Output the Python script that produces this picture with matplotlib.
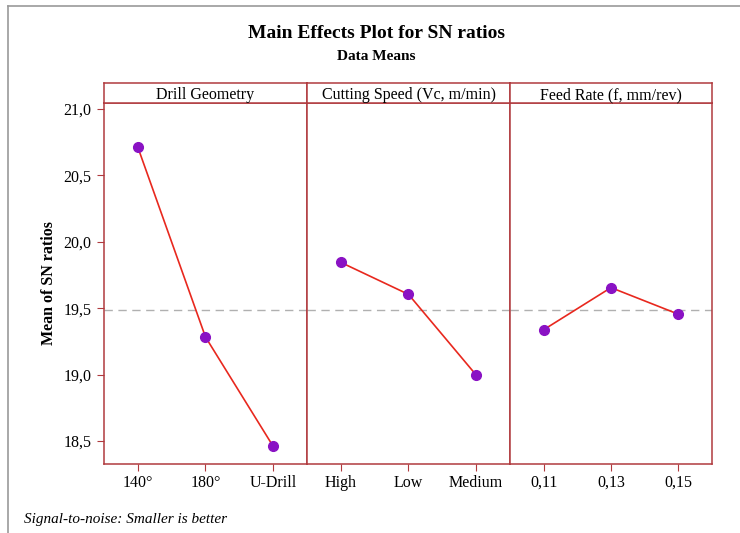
import matplotlib
matplotlib.use("Agg")
import matplotlib.pyplot as plt
from matplotlib.ticker import FuncFormatter, FixedLocator
from matplotlib.lines import Line2D

plt.rcParams['font.family'] = ['Liberation Serif', 'DejaVu Serif']

factors = ["Drill Geometry", "Cutting Speed (Vc, m/min)", "Feed Rate (f, mm/rev)"]
levels_drill = ["140°", "180°", "U-Drill"]
levels_speed = ["High", "Low", "Medium"]
levels_feed = ["0,11", "0,13", "0,15"]
sn_drill = [20.712, 19.283, 18.460]
sn_speed = [19.845, 19.604, 18.997]
sn_feed = [19.338, 19.655, 19.455]
grand_mean = 19.485
yticks = [18.5, 19.0, 19.5, 20.0, 20.5, 21.0]

levels = [levels_drill, levels_speed, levels_feed]
values = [sn_drill, sn_speed, sn_feed]

W, H = 740, 533
fig = plt.figure(figsize=(W/100, H/100), dpi=100)

frame_col = "#B03A3E"
line_col = "#E8281E"
marker_col = "#8A12C4"

# outer figure border (left & top)
fig.add_artist(Line2D([8/W, 8/W], [0, 1 - 6/H], color="#9a9a9a", lw=1.2, transform=fig.transFigure))
fig.add_artist(Line2D([8/W, 1], [1 - 6/H, 1 - 6/H], color="#9a9a9a", lw=1.2, transform=fig.transFigure))

edges = [104, 307, 510, 712]
bottom_px, top_px, strip_top = 464, 103, 83
ylo, yhi = 18.327, 21.045

for i in range(3):
    x0 = edges[i] / W
    w = (edges[i + 1] - edges[i]) / W
    ax = fig.add_axes([x0, 1 - bottom_px / H, w, (bottom_px - top_px) / H])
    xs = list(range(len(levels[i])))
    ax.axhline(grand_mean, color="#b0b0b0", lw=1.0, ls=(0, (6, 4)), zorder=1)
    ax.plot(xs, values[i], color=line_col, lw=1.2, zorder=2)
    ax.plot(xs, values[i], ls="none", marker="o", ms=7, color=marker_col, zorder=3)
    ax.set_xlim(-0.5, 2.5)
    ax.set_ylim(ylo, yhi)
    ax.set_xticks(xs)
    ax.set_xticklabels(levels[i], fontsize=11.5)
    for s in ax.spines.values():
        s.set_color(frame_col)
        s.set_linewidth(1.1)
    ax.tick_params(axis="x", direction="out", length=5, color=frame_col, pad=3)
    if i == 0:
        ax.yaxis.set_major_locator(FixedLocator(yticks))
        ax.yaxis.set_major_formatter(FuncFormatter(lambda v, p: f"{v:.1f}".replace(".", ",")))
        ax.tick_params(axis="y", direction="out", length=5, color=frame_col, labelsize=11.5, pad=4)
        ax.set_ylabel("Mean of SN ratios", fontsize=11.5, fontweight="bold", labelpad=5)
    else:
        ax.set_yticks([])
    # strip
    sax = fig.add_axes([x0, 1 - top_px / H, w, (top_px - strip_top) / H])
    sax.set_xticks([]); sax.set_yticks([])
    for s in sax.spines.values():
        s.set_color(frame_col)
        s.set_linewidth(1.1)
    sax.text(0.5, 0.4, factors[i], ha="center", va="center", fontsize=11.5, transform=sax.transAxes)

fig.text(376/W, 1 - 34/H, "Main Effects Plot for SN ratios", ha="center", va="center",
         fontsize=14, fontweight="bold")
fig.text(376/W, 1 - 57/H, "Data Means", ha="center", va="center", fontsize=11, fontweight="bold")
fig.text(24/W, 1 - 519/H, "Signal-to-noise: Smaller is better", ha="left", va="center",
         fontsize=11, style="italic")

fig.savefig("out.png", dpi=100)
